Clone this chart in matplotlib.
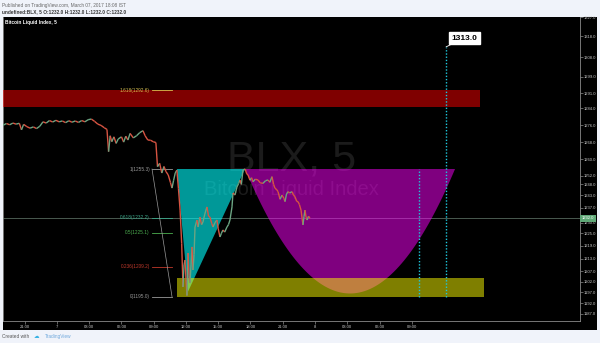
import numpy as np
import matplotlib.pyplot as plt
from matplotlib.collections import LineCollection
from matplotlib.patches import Polygon, Rectangle

plt.rcParams['font.family'] = ['Liberation Sans', 'DejaVu Sans']

# price series: hours from March 7 00:00, close prices
hours = [-5.0, -4.7, -4.4, -4.1, -3.8, -3.5, -3.3, -3.1, -2.8, -2.5, -2.2, -1.9, -1.6, -1.3,
         -1.0, -0.7, -0.4, -0.1, 0.2, 0.5, 0.8, 1.1, 1.4, 1.7, 2.0, 2.3, 2.6, 2.9, 3.2, 3.5,
         3.8, 4.1, 4.4, 4.65, 4.8, 4.95, 5.1, 5.3, 5.5, 5.7, 6.0, 6.2, 6.4, 6.6, 6.8, 7.1,
         7.4, 7.7, 8.0, 8.2, 8.45, 8.7, 8.95, 9.2, 9.35, 9.55, 9.75, 9.95, 10.15, 10.35,
         10.55, 10.7, 10.85, 11.0, 11.15, 11.3, 11.45, 11.6, 11.72, 11.82, 11.91, 12.0,
         12.09, 12.19, 12.28, 12.37, 12.47, 12.56, 12.65, 12.75, 12.84, 13.02, 13.12, 13.3,
         13.45, 13.58, 13.75, 13.95, 14.1, 14.23, 14.4, 14.51, 14.7, 14.88, 15.0, 15.16,
         15.3, 15.44, 15.6, 15.81, 15.95, 16.09, 16.28, 16.37, 16.55, 16.74, 16.9, 17.02,
         17.15, 17.3, 17.5, 17.65, 17.77, 17.95, 18.1, 18.23, 18.45, 18.7, 18.9, 19.16,
         19.4, 19.63, 19.8, 20.0, 20.15, 20.28, 20.45, 20.56, 20.75, 20.93, 21.1, 21.21,
         21.35, 21.49, 21.65, 21.86, 22.0, 22.14, 22.3, 22.42, 22.55, 22.7, 22.8, 22.88,
         22.98, 23.07, 23.17, 23.26, 23.4, 23.53]
closes = [1276.0, 1276.8, 1276.2, 1277.0, 1276.5, 1276.9, 1273.8, 1276.4, 1275.3, 1274.6,
          1275.2, 1274.4, 1275.5, 1277.6, 1277.0, 1278.2, 1277.5, 1278.3, 1277.6, 1278.0,
          1277.2, 1278.1, 1277.4, 1278.0, 1277.3, 1278.2, 1277.6, 1278.6, 1278.9, 1277.8,
          1276.5, 1275.9, 1274.8, 1274.0, 1263.5, 1271.0, 1268.2, 1270.5, 1267.4, 1269.5,
          1270.5, 1268.0, 1270.8, 1269.0, 1272.1, 1270.0, 1271.0, 1272.5, 1273.4, 1271.0,
          1269.0, 1268.9, 1268.2, 1267.8, 1256.4, 1258.0, 1253.4, 1256.5, 1254.0, 1252.5,
          1249.0, 1246.3, 1250.0, 1253.4, 1254.8, 1246.0, 1235.9, 1220.0, 1199.6, 1210.0,
          1212.3, 1203.0, 1195.5, 1215.6, 1205.0, 1201.5, 1210.0, 1218.5, 1207.6, 1215.0,
          1227.9, 1231.2, 1227.9, 1232.6, 1229.0, 1230.3, 1234.0, 1237.4, 1233.0, 1232.6,
          1229.5, 1227.9, 1230.0, 1231.2, 1227.0, 1223.2, 1225.0, 1226.5, 1225.5, 1227.9,
          1229.0, 1231.2, 1237.4, 1244.0, 1243.0, 1246.8, 1248.5, 1250.1, 1248.0, 1254.8,
          1255.3, 1253.0, 1252.5, 1250.0, 1251.2, 1249.3, 1250.5, 1250.1, 1248.8, 1248.5,
          1249.8, 1250.1, 1249.0, 1251.7, 1248.0, 1246.2, 1245.5, 1244.6, 1241.0, 1243.0,
          1241.5, 1239.9, 1243.5, 1244.6, 1244.0, 1244.6, 1243.0, 1242.2, 1240.0, 1239.9,
          1238.5, 1235.9, 1232.0, 1228.9, 1233.0, 1235.9, 1232.5, 1231.2, 1233.0, 1232.0]
last_price = 1232.0

# fibonacci retracement
fib_ratios = ['1.618', '1', '0.618', '0.5', '0.236', '0']
fib_prices = [1292.6, 1255.3, 1232.2, 1225.1, 1209.2, 1195.0]
fib_colors = ['#d8c050', '#9a9a9a', '#3aa88a', '#4caf50', '#c0392b', '#9a9a9a']
fib_start, fib_end = 8.84, 10.70

# drawings (anchor points: hours, prices)
tri_h = [11.16, 17.49, 12.19]
tri_p = [1255.3, 1255.3, 1197.4]
bowl_h = [17.49, 27.26, 37.02]
bowl_p = [1255.3, 1196.5, 1255.3]
box_h = [11.2, 39.7]
box_p = [1195.0, 1203.7]
red_h = [-6.0, 39.35]
red_p = [1284.6, 1292.6]
vline_h = [33.67, 36.19]
vline_top = [1255.3, 1313.0]
target = 1313.0

yticks = [1187, 1192, 1197, 1202, 1207, 1213, 1219, 1225, 1230, 1237, 1243, 1248, 1252,
          1260, 1268, 1276, 1284, 1291, 1299, 1308, 1318, 1327]
xticks = [-3, 0, 3, 6, 9, 12, 15, 18, 21, 24, 27, 30, 33]
xlabels = ['21:00', '7', '03:00', '06:00', '09:00', '12:00', '15:00', '18:00', '21:00',
           '8', '03:00', '06:00', '09:00']

fig = plt.figure(figsize=(6, 3.43), dpi=100, facecolor='#f0f3fa')
fig.patches.append(Rectangle((0.005, 0.038), 0.99, 0.9125, transform=fig.transFigure,
                             facecolor='black', edgecolor='none', zorder=-10))
ax = fig.add_axes([0.005, 0.0641, 0.9617, 0.8863], facecolor='black')
ax.set_zorder(1)
ax.set_xlim(-5.02, 48.65)
ax.set_ylim(1183.5, 1327.1)

# watermark
ax.text(0.5, 0.53, 'BLX, 5', transform=ax.transAxes, ha='center', va='center',
        fontsize=31, color='#1b1b1b', zorder=1)
ax.text(0.5, 0.434, 'Bitcoin Liquid Index', transform=ax.transAxes, ha='center',
        va='center', fontsize=14.5, color='#1b1b1b', zorder=1)

ax.axhline(last_price, color='#4a5a50', lw=0.7, zorder=2)

# drawings
ax.add_patch(Rectangle((red_h[0], red_p[0]), red_h[1] - red_h[0], red_p[1] - red_p[0],
                       facecolor=(1, 0, 0, 0.5), edgecolor='none', zorder=3))
ax.add_patch(Polygon(list(zip(tri_h, tri_p)), closed=True,
                     facecolor=(0, 1, 1, 0.6), edgecolor='none', zorder=3))
t = np.linspace(-1, 1, 80)
half = (bowl_h[2] - bowl_h[0]) / 2
bx = bowl_h[1] + t * half
by = bowl_p[1] + (bowl_p[0] - bowl_p[1]) * t ** 2
ax.add_patch(Polygon(list(zip(bx, by)), closed=True,
                     facecolor=(1, 0, 1, 0.5), edgecolor='none', zorder=3))
ax.add_patch(Rectangle((box_h[0], box_p[0]), box_h[1] - box_h[0], box_p[1] - box_p[0],
                       facecolor=(1, 1, 0, 0.5), edgecolor='none', zorder=4))

# fib levels
for r, p, c in zip(fib_ratios, fib_prices, fib_colors):
    ax.plot([fib_start, fib_end], [p, p], color=c, lw=0.6, zorder=5)
    ax.text(fib_start - 0.2, p, f'{r}({p:.1f})', color=c, fontsize=3.4,
            ha='right', va='center', zorder=5)
ax.plot([fib_start, fib_end], [fib_prices[1], fib_prices[-1]], color='#9a9a9a',
        lw=0.5, zorder=5)

# price
pts = np.column_stack([hours, closes])
segs = np.stack([pts[:-1], pts[1:]], axis=1)
cols = ['#6ba583' if b >= a else '#d75442' for a, b in zip(closes[:-1], closes[1:])]
ax.add_collection(LineCollection(segs, colors=cols, linewidths=1.0, zorder=6))

# dotted verticals and target callout
for h, top in zip(vline_h, vline_top):
    ax.plot([h, h], [box_p[0], top], color='#1fc8dc', lw=1.0, ls=(0, (1, 1.3)), zorder=7)
ax.annotate(f'{target:.1f}', xy=(vline_h[1], target), xytext=(vline_h[1] + 0.5, target + 2.4),
            fontsize=6, fontweight='bold', color='black', ha='left', va='bottom',
            bbox=dict(boxstyle='square,pad=0.3', facecolor='white', edgecolor='white'),
            arrowprops=dict(arrowstyle='-', color='white', lw=0.6, shrinkA=0, shrinkB=0),
            zorder=8)

# last price label on scale
ax.annotate(f'{last_price:.1f}', xy=(1.003, last_price), xycoords=('axes fraction', 'data'),
            fontsize=3, color='white', ha='left', va='center',
            bbox=dict(boxstyle='square,pad=0.35', facecolor='#5fa877', edgecolor='none'),
            zorder=9, annotation_clip=False)

# axes styling
for s in ['left', 'bottom', 'right']:
    ax.spines[s].set_color('#8a8a8a')
    ax.spines[s].set_linewidth(0.6)
ax.spines['top'].set_visible(False)
ax.yaxis.tick_right()
ax.set_yticks(yticks)
ax.set_yticklabels([f'{v:.1f}' for v in yticks])
ax.set_xticks(xticks)
ax.set_xticklabels(xlabels)
ax.tick_params(axis='both', colors='#8a8a8a', labelcolor='#c8c8c8', labelsize=3,
               length=2, width=0.5, pad=1)

# header / footer
fig.text(0.004, 0.985, 'Published on TradingView.com, March 07, 2017 18:08 IST',
         fontsize=3.4, color='#666666', va='center')
fig.text(0.004, 0.967, 'undefined:BLX, 5 O:1232.0 H:1232.0 L:1232.0 C:1232.0',
         fontsize=3.4, color='#333333', va='center', fontweight='bold')
ax.text(0.004, 0.982, 'Bitcoin Liquid Index, 5', transform=ax.transAxes, fontsize=3.4,
        color='white', va='center', fontweight='bold')
fig.text(0.004, 0.02, 'Created with', fontsize=3.4, color='#555555', va='center')
fig.text(0.057, 0.02, '\u2601', fontsize=4, color='#3bb3e4', va='center',
         family=['DejaVu Sans'])
fig.text(0.075, 0.02, 'TradingView', fontsize=3.4, color='#6fa8dc', va='center')

fig.savefig('out.png', dpi=100, facecolor=fig.get_facecolor())
